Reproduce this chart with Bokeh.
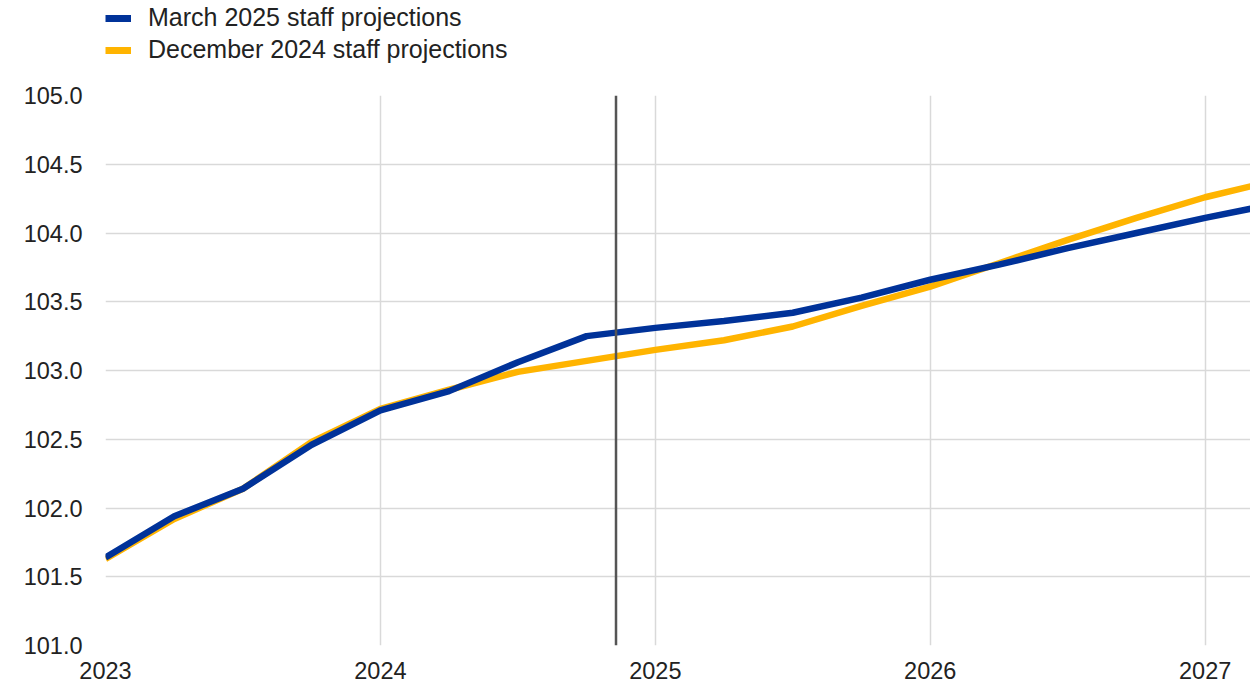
from bokeh.plotting import figure
from bokeh.layouts import column
from bokeh.models import FixedTicker, PrintfTickFormatter, Legend, LegendItem, Span, Range1d
from bokeh.embed import file_html
from bokeh.resources import INLINE

# quarterly dates (year fractions)
quarters = [2023.0, 2023.25, 2023.5, 2023.75,
            2024.0, 2024.25, 2024.5, 2024.75,
            2025.0, 2025.25, 2025.5, 2025.75,
            2026.0, 2026.25, 2026.5, 2026.75,
            2027.0, 2027.25]
march_2025 = [101.64, 101.94, 102.14, 102.46,
              102.71, 102.85, 103.06, 103.25,
              103.31, 103.36, 103.42, 103.53,
              103.66, 103.77, 103.89, 104.00,
              104.11, 104.21]
december_2024 = [101.63, 101.92, 102.14, 102.48,
                 102.72, 102.86, 102.99, 103.07,
                 103.15, 103.22, 103.32, 103.47,
                 103.61, 103.78, 103.95, 104.11,
                 104.26, 104.38]
cutoff_date = 2024.857
x_ticks = [2023, 2024, 2025, 2026, 2027]
y_ticks = [101.0, 101.5, 102.0, 102.5, 103.0, 103.5, 104.0, 104.5, 105.0]
labels = ["March 2025 staff projections", "December 2024 staff projections"]
colors = ["#003299", "#FFB400"]

FONT = "Liberation Sans"
FS = "23.5px"
LW = 6.5

# ---- legend strip (separate figure above the chart; series lie outside its view) ----
leg = figure(frame_width=1145, frame_height=77, output_backend="svg", toolbar_location=None,
             x_range=Range1d(0, 1), y_range=Range1d(0, 1),
             min_border_left=105, min_border_right=0, min_border_top=3, min_border_bottom=0)
leg.axis.visible = False
leg.grid.visible = False
leg.outline_line_color = None
l0 = leg.line(quarters, march_2025, line_color=colors[0], line_width=7)
l1 = leg.line(quarters, december_2024, line_color=colors[1], line_width=7)
legend = Legend(items=[LegendItem(label=labels[0], renderers=[l0]),
                       LegendItem(label=labels[1], renderers=[l1])],
                location="top_left", orientation="vertical",
                border_line_alpha=0, background_fill_alpha=0,
                padding=0, margin=0, spacing=3,
                glyph_width=26, glyph_height=20, label_height=20,
                label_standoff=17,
                label_text_font=FONT, label_text_font_size="25px",
                label_text_color="#222222")
leg.add_layout(legend, "center")

# ---- main chart ----
p = figure(frame_width=1145, frame_height=550, output_backend="svg",
           toolbar_location=None, x_range=Range1d(2023.0, 2027.165),
           y_range=Range1d(101.0, 105.0),
           min_border_left=105, min_border_right=0, min_border_top=15, min_border_bottom=50)
p.outline_line_color = None

for ax in (p.xaxis[0], p.yaxis[0]):
    ax.axis_line_color = None
    ax.major_tick_line_color = None
    ax.minor_tick_line_color = None
    ax.major_tick_out = 0
    ax.major_tick_in = 0
    ax.major_label_text_font = FONT
    ax.major_label_text_font_size = FS
    ax.major_label_text_color = "#222222"

p.xaxis.ticker = FixedTicker(ticks=x_ticks)
p.yaxis.ticker = FixedTicker(ticks=y_ticks)
p.yaxis.formatter = PrintfTickFormatter(format="%.1f")
p.yaxis.major_label_standoff = 23
p.xaxis.major_label_standoff = 16

p.xgrid.ticker = FixedTicker(ticks=x_ticks)
p.ygrid.ticker = FixedTicker(ticks=y_ticks)
p.xgrid.grid_line_color = "#d9d9d9"
p.ygrid.grid_line_color = "#d9d9d9"
p.xgrid.grid_line_width = 1.5
p.ygrid.grid_line_width = 1.5

p.add_layout(Span(location=cutoff_date, dimension="height", line_color="#555555", line_width=2.5))

p.line(quarters, december_2024, line_color=colors[1], line_width=LW)
p.line(quarters, march_2025, line_color=colors[0], line_width=LW)

layout = column(leg, p, spacing=0)
open("out.html", "w").write(file_html(layout, INLINE))
